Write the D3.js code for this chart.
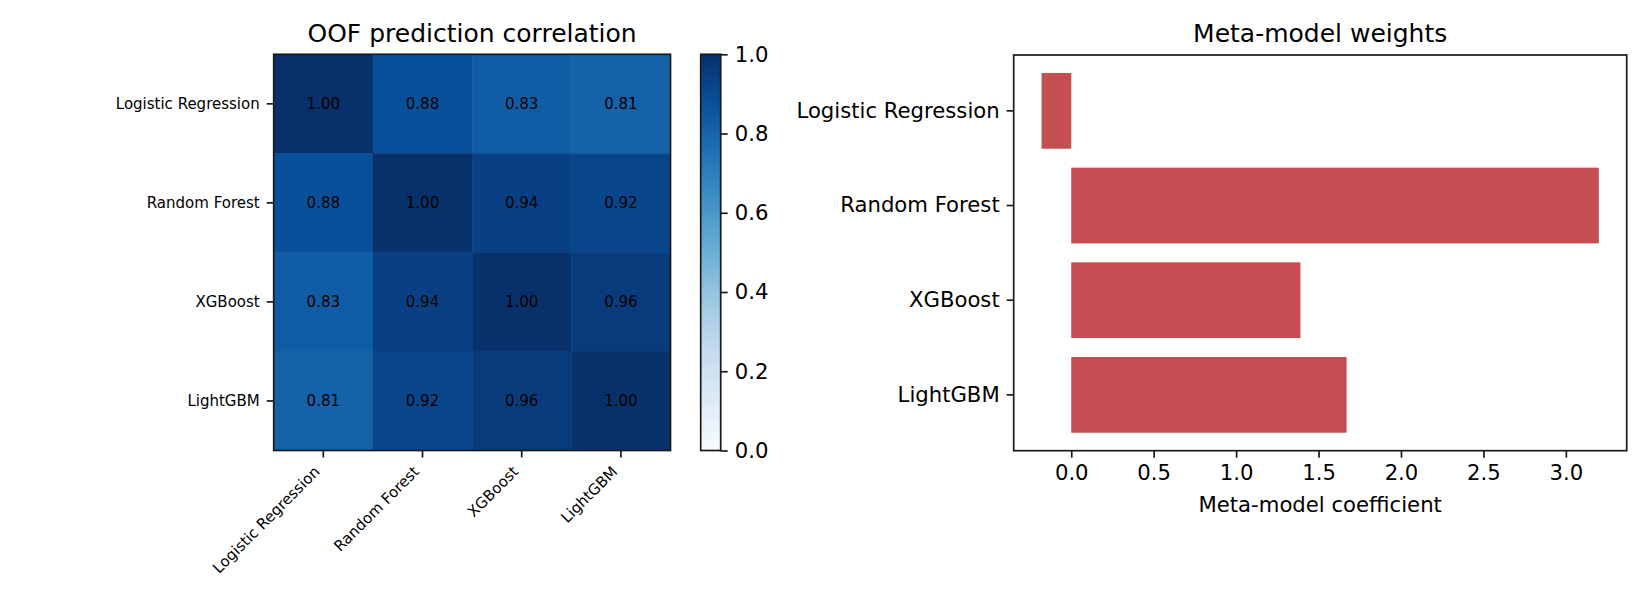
<!DOCTYPE html>
<html>
<head>
<meta charset="utf-8">
<script src="https://d3js.org/d3.v7.min.js"></script>
<style>
  body { margin: 0; background: #fff; }
  svg { font-family: "DejaVu Sans", sans-serif; }
</style>
</head>
<body>
<svg id="chart" width="1650" height="600"></svg>
<script>
'use strict';

// model names (same order on both panels)
var models = ["Logistic Regression", "Random Forest", "XGBoost", "LightGBM"];

// OOF prediction correlation matrix, one row per model
var corrLR   = [1.00, 0.88, 0.83, 0.81];
var corrRF   = [0.88, 1.00, 0.94, 0.92];
var corrXGB  = [0.83, 0.94, 1.00, 0.96];
var corrLGBM = [0.81, 0.92, 0.96, 1.00];

// meta-model coefficients
var weights = [-0.18, 3.20, 1.39, 1.67];

var cbarTicks = [0.0, 0.2, 0.4, 0.6, 0.8, 1.0];
var xTicks = [0.0, 0.5, 1.0, 1.5, 2.0, 2.5, 3.0];

(function() {
    var svg = d3.select("#chart");
    var ink = "#1a1a1a";
    var smallFont = "15px", tickFont = "21.2px";

    // matplotlib "Blues" = linear ramp through the 9 colorbrewer colors
    var bluesCols = ["#f7fbff","#deebf7","#c6dbef","#9ecae1","#6baed6","#4292c6","#2171b5","#08519c","#08306b"];
    var color = d3.scaleLinear()
        .domain(d3.range(9).map(function (i) { return i / 8; }))
        .range(bluesCols)
        .clamp(true);

    // ---------- left panel: heatmap ----------
    var hm = { left: 273.7, right: 670.5, top: 54.3, bottom: 450.5 };
    var matrix = [corrLR, corrRF, corrXGB, corrLGBM];

    var x = d3.scaleBand().domain(models).range([hm.left, hm.right]);
    var y = d3.scaleBand().domain(models).range([hm.top, hm.bottom]);

    var cells = [];
    matrix.forEach(function (row, i) {
        row.forEach(function (v, j) {
            cells.push({ row: models[i], col: models[j], value: v });
        });
    });

    var g1 = svg.append("g");
    g1.selectAll("rect.cell")
        .data(cells)
        .enter().append("rect")
        .attr("class", "cell")
        .attr("x", function (d) { return x(d.col); })
        .attr("y", function (d) { return y(d.row); })
        .attr("width", x.bandwidth() + 0.5)
        .attr("height", y.bandwidth() + 0.5)
        .attr("fill", function (d) { return color(d.value); });

    g1.selectAll("text.ann")
        .data(cells)
        .enter().append("text")
        .attr("class", "ann")
        .attr("x", function (d) { return x(d.col) + x.bandwidth() / 2; })
        .attr("y", function (d) { return y(d.row) + y.bandwidth() / 2; })
        .attr("text-anchor", "middle")
        .attr("dominant-baseline", "central")
        .style("font-size", smallFont)
        .style("fill", "#000")
        .text(function (d) { return d3.format(".2f")(d.value); });

    g1.append("rect")
        .attr("x", hm.left).attr("y", hm.top)
        .attr("width", hm.right - hm.left).attr("height", hm.bottom - hm.top)
        .attr("fill", "none").attr("stroke", ink).attr("stroke-width", 1.7);

    // y ticks
    models.forEach(function (m) {
        var cy = y(m) + y.bandwidth() / 2;
        g1.append("line")
            .attr("x1", hm.left - 7).attr("x2", hm.left)
            .attr("y1", cy).attr("y2", cy)
            .attr("stroke", ink).attr("stroke-width", 1.7);
        g1.append("text")
            .attr("x", hm.left - 14).attr("y", cy)
            .attr("text-anchor", "end")
            .attr("dominant-baseline", "central")
            .style("font-size", smallFont)
            .text(m);
    });

    // x ticks, rotated 45 deg, right aligned
    models.forEach(function (m) {
        var cx = x(m) + x.bandwidth() / 2;
        g1.append("line")
            .attr("x1", cx).attr("x2", cx)
            .attr("y1", hm.bottom).attr("y2", hm.bottom + 7)
            .attr("stroke", ink).attr("stroke-width", 1.7);
        var ax = cx - 2.5, ay = hm.bottom + 14 + 8;
        g1.append("text")
            .attr("x", ax).attr("y", ay)
            .attr("text-anchor", "end")
            .attr("transform", "rotate(-45," + ax + "," + ay + ")")
            .style("font-size", smallFont)
            .text(m);
    });

    g1.append("text")
        .attr("x", (hm.left + hm.right) / 2).attr("y", 41.5)
        .attr("text-anchor", "middle")
        .style("font-size", "25px")
        .text("OOF prediction correlation");

    // colorbar
    var cb = { left: 700.7, right: 720.7, top: 54.3, bottom: 450.5 };
    var grad = svg.append("defs").append("linearGradient")
        .attr("id", "bluesGrad")
        .attr("x1", 0).attr("y1", 1).attr("x2", 0).attr("y2", 0);
    d3.range(0, 1.0001, 0.05).forEach(function (t) {
        grad.append("stop").attr("offset", t).attr("stop-color", color(t));
    });
    var cbScale = d3.scaleLinear().domain([0, 1]).range([cb.bottom, cb.top]);
    g1.append("rect")
        .attr("x", cb.left).attr("y", cb.top)
        .attr("width", cb.right - cb.left).attr("height", cb.bottom - cb.top)
        .attr("fill", "url(#bluesGrad)")
        .attr("stroke", ink).attr("stroke-width", 1.7);
    var cbAxis = d3.axisRight(cbScale)
        .tickValues(cbarTicks)
        .tickFormat(d3.format(".1f"))
        .tickSize(7).tickPadding(7);
    var cbG = g1.append("g")
        .attr("transform", "translate(" + cb.right + ",0)")
        .call(cbAxis);
    cbG.select(".domain").remove();
    cbG.selectAll("line").attr("stroke", ink).attr("stroke-width", 1.7);
    cbG.selectAll("text").style("font-size", tickFont).style("font-family", "DejaVu Sans").attr("fill", "#000");

    // ---------- right panel: bar chart ----------
    var bp = { left: 1013.7, right: 1626.7, top: 55, bottom: 450.7 };
    var lo = Math.min(0, d3.min(weights)), hi = Math.max(0, d3.max(weights));
    var pad = (hi - lo) * 0.05;
    var xb = d3.scaleLinear().domain([lo - pad, hi + pad]).range([bp.left, bp.right]);
    var yb = d3.scaleBand().domain(models).range([bp.top, bp.bottom])
        .paddingInner(0.2).paddingOuter(0.19);

    var g2 = svg.append("g");
    g2.selectAll("rect.bar")
        .data(weights)
        .enter().append("rect")
        .attr("class", "bar")
        .attr("x", function (d) { return xb(Math.min(0, d)); })
        .attr("y", function (d, i) { return yb(models[i]); })
        .attr("width", function (d) { return Math.abs(xb(d) - xb(0)); })
        .attr("height", yb.bandwidth())
        .attr("fill", "#c44e52");

    g2.append("rect")
        .attr("x", bp.left).attr("y", bp.top)
        .attr("width", bp.right - bp.left).attr("height", bp.bottom - bp.top)
        .attr("fill", "none").attr("stroke", ink).attr("stroke-width", 1.7);

    var xAx = g2.append("g")
        .attr("transform", "translate(0," + bp.bottom + ")")
        .call(d3.axisBottom(xb).tickValues(xTicks).tickFormat(d3.format(".1f")).tickSize(7).tickPadding(7));
    var yAx = g2.append("g")
        .attr("transform", "translate(" + bp.left + ",0)")
        .call(d3.axisLeft(yb).tickSize(7).tickPadding(7));
    [xAx, yAx].forEach(function (a) {
        a.select(".domain").remove();
        a.selectAll("line").attr("stroke", ink).attr("stroke-width", 1.7);
        a.selectAll("text").style("font-size", tickFont).style("font-family", "DejaVu Sans").attr("fill", "#000");
    });

    g2.append("text")
        .attr("x", (bp.left + bp.right) / 2).attr("y", 512)
        .attr("text-anchor", "middle")
        .style("font-size", tickFont)
        .text("Meta-model coefficient");

    g2.append("text")
        .attr("x", (bp.left + bp.right) / 2).attr("y", 41.5)
        .attr("text-anchor", "middle")
        .style("font-size", "25px")
        .text("Meta-model weights");
})();
</script>
</body>
</html>
